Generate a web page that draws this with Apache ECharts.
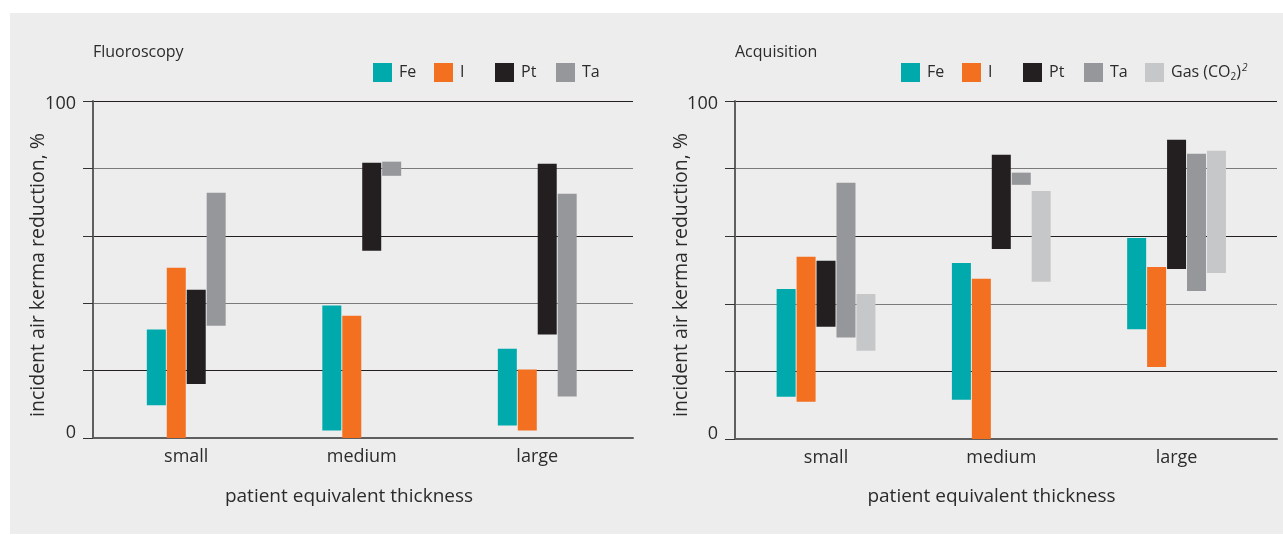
<!DOCTYPE html>
<html><head><meta charset="utf-8">
<script src="https://cdn.jsdelivr.net/npm/echarts@6/dist/echarts.min.js"></script>
<style>html,body{margin:0;padding:0;background:#fff}#c{width:1283px;height:535px}</style>
</head><body><div id="c"></div>
<script>
// ---------- data ----------
const categories = ['small', 'medium', 'large'];
// [low, high] ranges of incident air kerma reduction (%)
const fluoroFe = [[9.7, 32.2], [2.2, 39.3], [3.7, 26.5]];
const fluoroI  = [[0, 50.5], [0, 36.3], [2.2, 20.3]];
const fluoroPt = [[16.0, 44.0], [55.6, 81.7], [30.7, 81.4]];
const fluoroTa = [[33.3, 72.8], [77.8, 82.0], [12.3, 72.5]];
const acqFe  = [[12.5, 44.4], [11.6, 52.1], [32.5, 59.5]];
const acqI   = [[11.0, 53.9], [0, 47.4], [21.3, 50.9]];
const acqPt  = [[33.2, 52.7], [56.2, 84.1], [50.3, 88.5]];
const acqTa  = [[30.0, 75.8], [75.2, 78.8], [43.8, 84.4]];
const acqGas = [[26.1, 42.9], [46.5, 73.4], [49.1, 85.3]];
const yLabeled = [0, 100];
const fluoroLegend = ['Fe', 'I', 'Pt', 'Ta'];
const acqLegend = ['Fe', 'I', 'Pt', 'Ta', 'Gas'];

// ---------- style ----------
const FONT = '"Open Sans", sans-serif';
const TXT = '#2b2b2b';
const COLORS = { Fe: '#00a9ac', I: '#f37021', Pt: '#231f20', Ta: '#96979a', Gas: '#c6c7c8' };
const AXIS = '#5f5f5f';

function rangeSeries(name, pairs, panel, axisIdx) {
  const stack = panel + name;
  const common = { type: 'bar', stack, xAxisIndex: axisIdx, yAxisIndex: axisIdx,
    barWidth: 19, barGap: '5%', silent: true, emphasis: { disabled: true }, animation: false };
  return [
    Object.assign({}, common, { name: '_base_' + panel + name,
      itemStyle: { color: 'transparent' }, data: pairs.map(p => p[0]) }),
    Object.assign({}, common, { name,
      itemStyle: { color: COLORS[name] }, data: pairs.map(p => +(p[1] - p[0]).toFixed(2)) })
  ];
}

const series = [].concat(
  rangeSeries('Fe', fluoroFe, 'L', 1), rangeSeries('I', fluoroI, 'L', 1),
  rangeSeries('Pt', fluoroPt, 'L', 1), rangeSeries('Ta', fluoroTa, 'L', 1),
  rangeSeries('Fe', acqFe, 'R', 3), rangeSeries('I', acqI, 'R', 3),
  rangeSeries('Pt', acqPt, 'R', 3), rangeSeries('Ta', acqTa, 'R', 3),
  rangeSeries('Gas', acqGas, 'R', 3)
);

function decorY(gi) {
  return { type: 'value', gridIndex: gi, min: 0, max: 100, interval: 20,
    axisLine: { show: true, lineStyle: { color: AXIS, width: 2 } },
    axisTick: { show: true, length: 10, lineStyle: { color: '#333', width: 1 } },
    splitLine: { show: true, lineStyle: { color: ['#231f20', '#231f20', '#7a7a7a', '#231f20', '#7a7a7a', '#231f20'], width: 1 } },
    axisLabel: { margin: 17, color: TXT, fontFamily: FONT, fontSize: 18,
      formatter: v => v === yLabeled[1] ? '{a|' + v + '}' : (v === yLabeled[0] ? '{b|' + v + '}' : ''),
      rich: { a: { fontSize: 18, fontFamily: FONT, color: TXT, padding: [5, 0, 0, 0] },
              b: { fontSize: 18, fontFamily: FONT, color: TXT, padding: [0, 0, 11, 0] } } }
  };
}
function barsY(gi) { return { type: 'value', gridIndex: gi, min: 0, max: 100, interval: 20, show: false }; }
function decorX(gi) {
  return { type: 'category', gridIndex: gi, data: categories,
    axisLine: { show: true, lineStyle: { color: AXIS, width: 2 } },
    axisTick: { show: false }, axisLabel: { show: false }, splitLine: { show: false } };
}
function barsX(gi) {
  return { type: 'category', gridIndex: gi, data: categories,
    axisLine: { show: false }, axisTick: { show: false },
    axisLabel: { margin: 10, color: TXT, fontFamily: FONT, fontSize: 18 } };
}

// one legend component per entry, laid out in fixed 61px slots
function legends(startLeft, names) {
  return names.map((n, i) => ({
    left: startLeft + i * 61, top: 63, padding: 0, itemWidth: 19, itemHeight: 19, icon: 'rect',
    selectedMode: false, data: [n],
    formatter: name => name === 'Gas' ? '{t|Gas (CO}{sub|2}{t|)}{sup|2}' : name,
    textStyle: { color: TXT, fontFamily: FONT, fontSize: 16, padding: [0, 0, 0, 2],
      rich: { t: { fontSize: 16, fontFamily: FONT, color: TXT },
              sub: { fontSize: 10, fontFamily: FONT, color: TXT, padding: [9, 0, 0, 0] },
              sup: { fontSize: 10, fontFamily: FONT, color: TXT, fontStyle: 'italic', padding: [0, 0, 9, 1] } } }
  }));
}

const chart = echarts.init(document.getElementById('c'));
chart.setOption({
  backgroundColor: '#ffffff',
  animation: false,
  title: [
    { text: 'Fluoroscopy', left: 93, top: 44, padding: 0, textStyle: { fontSize: 16, fontWeight: 'normal', color: TXT, fontFamily: FONT } },
    { text: 'Acquisition', left: 735, top: 44, padding: 0, textStyle: { fontSize: 16, fontWeight: 'normal', color: TXT, fontFamily: FONT } }
  ],
  legend: [].concat(legends(373, fluoroLegend), legends(901, acqLegend)),
  grid: [
    { left: 93, top: 101, width: 540, height: 337, containLabel: false, outerBoundsMode: 'none' },
    { left: 98.5, top: 101, width: 526.5, height: 337, containLabel: false, outerBoundsMode: 'none' },
    { left: 735, top: 101, width: 542, height: 338, containLabel: false, outerBoundsMode: 'none' },
    { left: 738.4, top: 101, width: 525.8, height: 338, containLabel: false, outerBoundsMode: 'none' }
  ],
  xAxis: [decorX(0), barsX(1), decorX(2), barsX(3)],
  yAxis: [decorY(0), barsY(1), decorY(2), barsY(3)],
  graphic: [
    { type: 'rect', z: -10, silent: true, shape: { x: 10, y: 13, width: 1273, height: 521 }, style: { fill: '#ededed' } },
    { type: 'text', x: 38, y: 275, rotation: Math.PI / 2, silent: true,
      style: { text: 'incident air kerma reduction, %', fill: TXT, font: '19.5px "Open Sans", sans-serif', textAlign: 'center', textVerticalAlign: 'middle' } },
    { type: 'text', x: 681, y: 275, rotation: Math.PI / 2, silent: true,
      style: { text: 'incident air kerma reduction, %', fill: TXT, font: '19.5px "Open Sans", sans-serif', textAlign: 'center', textVerticalAlign: 'middle' } },
    { type: 'text', x: 349, y: 497, silent: true,
      style: { text: 'patient equivalent thickness', fill: TXT, font: '19px "Open Sans", sans-serif', textAlign: 'center', textVerticalAlign: 'middle' } },
    { type: 'text', x: 991.5, y: 497, silent: true,
      style: { text: 'patient equivalent thickness', fill: TXT, font: '19px "Open Sans", sans-serif', textAlign: 'center', textVerticalAlign: 'middle' } }
  ],
  series
});
</script></body></html>
